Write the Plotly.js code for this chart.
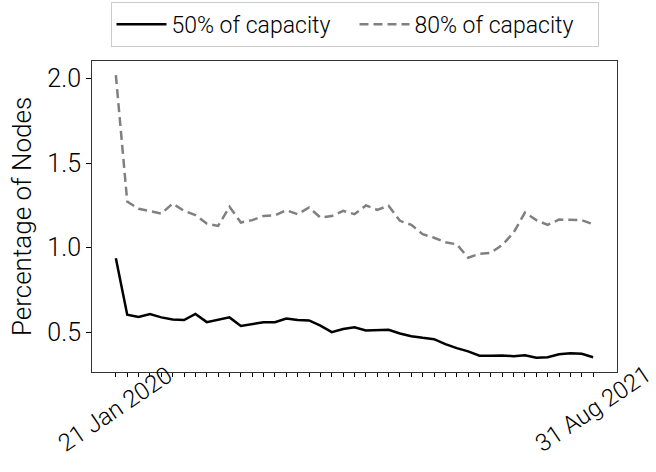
<!DOCTYPE html>
<html>
<head>
<meta charset="utf-8">
<script src="https://cdn.plot.ly/plotly-3.0.1.min.js"></script>
<style>html,body{margin:0;padding:0;background:#fff;}#chart{width:656px;height:472px;}</style>
</head>
<body>
<div id="chart"></div>
<script>
// Biweekly dates, 21 Jan 2020 .. 31 Aug 2021 (43 points)
const dates = ["2020-01-21","2020-02-04","2020-02-18","2020-03-03","2020-03-17","2020-03-31","2020-04-14","2020-04-28","2020-05-12","2020-05-26","2020-06-09","2020-06-23","2020-07-07","2020-07-21","2020-08-04","2020-08-18","2020-09-01","2020-09-15","2020-09-29","2020-10-13","2020-10-27","2020-11-10","2020-11-24","2020-12-08","2020-12-22","2021-01-05","2021-01-19","2021-02-02","2021-02-16","2021-03-02","2021-03-16","2021-03-30","2021-04-13","2021-04-27","2021-05-11","2021-05-25","2021-06-08","2021-06-22","2021-07-06","2021-07-20","2021-08-03","2021-08-17","2021-08-31"];
const cap50 = [0.937,0.604,0.590,0.608,0.588,0.575,0.572,0.608,0.560,0.575,0.588,0.537,0.547,0.559,0.559,0.581,0.572,0.570,0.539,0.501,0.519,0.529,0.511,0.515,0.515,0.493,0.477,0.467,0.459,0.430,0.406,0.387,0.361,0.361,0.363,0.358,0.364,0.349,0.352,0.370,0.376,0.373,0.352];
const cap80 = [2.020,1.273,1.230,1.218,1.202,1.261,1.218,1.193,1.143,1.129,1.242,1.149,1.163,1.188,1.191,1.222,1.198,1.238,1.178,1.187,1.218,1.198,1.250,1.224,1.248,1.159,1.135,1.080,1.059,1.032,1.020,0.941,0.964,0.970,1.016,1.089,1.208,1.163,1.135,1.166,1.163,1.163,1.139];
const seriesNames = ["50% of capacity", "80% of capacity"];
const edgeLabels = ["21 Jan 2020", "31 Aug 2021"];
const yTicks = [0.5, 1.0, 1.5, 2.0];
const yTickText = ["0.5", "1.0", "1.5", "2.0"];

const FONT = 'Roboto, sans-serif';
const W = 300;

const traces = [
  {x: dates, y: cap50, name: seriesNames[0], mode: 'lines', type: 'scatter',
   line: {color: '#000000', width: 2.5}},
  {x: dates, y: cap80, name: seriesNames[1], mode: 'lines', type: 'scatter',
   line: {color: '#808080', width: 2.5, dash: '9px,5px'}}
];

const layout = {
  width: 656, height: 472,
  margin: {l: 92, r: 39, t: 61, b: 100, autoexpand: false},
  paper_bgcolor: '#ffffff', plot_bgcolor: '#ffffff',
  font: {family: FONT, color: '#000000', size: 20, weight: W},
  showlegend: true,
  legend: {orientation: 'h', x: 0.5, xanchor: 'center', y: 1.19, yanchor: 'top',
           bordercolor: '#cccccc', borderwidth: 1,
           font: {size: 23, family: FONT, weight: W},
           entrywidth: 178, entrywidthmode: 'pixels', itemwidth: 50},
  xaxis: {
    type: 'date', range: ['2019-12-22 14:24', '2021-09-29 09:36'],
    tickmode: 'array', tickvals: dates, showticklabels: false,
    ticks: 'outside', ticklen: 4, tickwidth: 1, tickcolor: '#000',
    showline: true, linecolor: '#333', linewidth: 1, mirror: true,
    showgrid: false, zeroline: false
  },
  yaxis: {
    range: [0.265, 2.104],
    tickmode: 'array', tickvals: yTicks, ticktext: yTickText,
    ticks: 'outside', ticklen: 5, tickwidth: 1, tickcolor: '#000',
    tickfont: {size: 25, family: FONT, weight: W},
    showline: true, linecolor: '#333', linewidth: 1, mirror: true,
    showgrid: false, zeroline: false,
    title: {text: 'Percentage of Nodes', font: {size: 26, family: FONT, weight: W}, standoff: 8}
  },
  annotations: [
    {x: dates[0], y: -0.12, xref: 'x', yref: 'paper', text: edgeLabels[0], showarrow: false,
     textangle: -34, xanchor: 'center', yanchor: 'middle', font: {size: 24, family: FONT, weight: W}},
    {x: dates[dates.length - 1], y: -0.12, xref: 'x', yref: 'paper', text: edgeLabels[1], showarrow: false,
     textangle: -34, xanchor: 'center', yanchor: 'middle', font: {size: 24, family: FONT, weight: W}}
  ]
};

Plotly.newPlot('chart', traces, layout, {displayModeBar: false, staticPlot: true});
</script>
</body>
</html>
